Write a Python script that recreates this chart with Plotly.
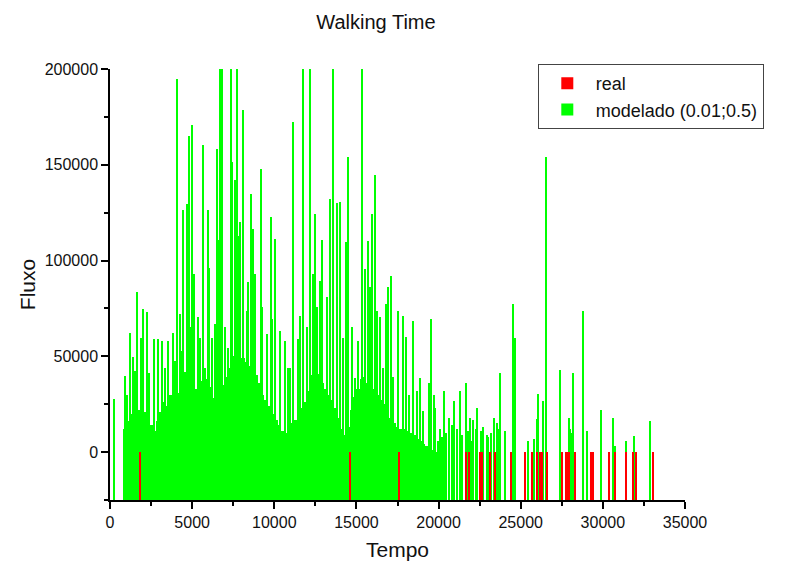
import numpy as np
import plotly.graph_objects as go

Y_MIN = -25000

# "real" series (values read as ~0, drawn from the bottom axis)
real_x = [1826, 14609, 17591, 21670, 21852, 22522, 22643, 23130, 23435, 24409,
          25261, 25687, 25991, 26174, 26296, 26600, 27513, 27757, 27878, 27939,
          28304, 29278, 29400, 30374, 30739, 31409, 31835, 32017, 33052]
real_y = [0] * len(real_x)

# "modelado" – dense body (read at 200-unit steps)
env_x = list(range(900, 20400, 200))
env_y = [12000, 16000, 20000, 24000, 22000, 25000, 21000, 18000, 14000, 11000,
         16000, 21000, 26000, 24000, 30000, 33000, 31000, 37000, 42000, 45000,
         40000, 36000, 33000, 37000, 40000, 38000, 34000, 28000, 26000, 31000,
         35000, 39000, 44000, 50000, 55000, 51000, 49000, 47000, 45000, 43000,
         40000, 36000, 30000, 27000, 24000, 20000, 17000, 14000, 11000, 10000,
         13000, 15000, 17000, 20000, 23000, 26000, 32000, 40000, 46000, 41000,
         36000, 33000, 30000, 27000, 23000, 18000, 12000, 9000, 13000, 22000,
         29000, 33000, 38000, 39000, 36000, 35000, 33000, 30000, 27000, 25000,
         21000, 18000, 15000, 13000, 12000, 12000, 11000, 10000, 9000, 7000,
         6000, 4000, 3000, 2000, 1000, 0, -4000, -10000]

# "modelado" – individual spikes
spike_x = [243, 913, 1050, 1217, 1420, 1522, 1663, 1866, 2029, 2231, 2394, 2678, 2941,
           3143, 3348, 3550, 3814, 3977, 4058, 4261, 4362, 4423, 4707, 4809, 4870,
           5012, 5073, 5100, 5377, 5478, 5641, 5783, 5986, 6047, 6188, 6391, 6534,
           6650, 6696, 6760, 6820, 7000, 7203, 7346, 7407, 7609, 7710, 7800, 7913,
           8116, 8319, 8420, 8562, 8724, 8825, 9170, 9232, 9536, 9778, 9841, 10044,
           10348, 10652, 10855, 10956, 11159, 11423, 11565, 11768, 11971, 12174,
           12377, 12478, 12580, 12783, 12884, 13188, 13391, 13554, 13600, 13838,
           14000, 14203, 14365, 14507, 14710, 14913, 15116, 15320, 15522, 15724,
           15826, 15927, 16131, 16273, 16435, 16600, 16781, 16943, 17085, 17250,
           17511, 17815, 17990, 18200, 18464, 18660, 18870, 19072, 19430, 19539,
           19742, 19800, 19986, 20087, 20200, 20331, 20450, 20650, 20800, 20960,
           21100, 21305, 21450, 21650, 21800, 21920, 22000, 22120, 22250, 22360,
           22580, 22700, 22920, 23000, 23200, 23375, 23530, 23650, 23740, 24025,
           24512, 24652, 25424, 25800, 25973, 26070, 26376, 26540, 27392, 27960,
           28000, 28050, 28203, 28773, 29057, 29906, 30599, 30740, 31409, 31896,
           32870]
spike_y = [27750, 39800, 30000, 62300, 49400, 42400, 83400, 59800, 74900, 72900, 41500, 59200, 59000,
           58000, 44100, 58000, 62300, 47600, 194600, 72100, 52900, 126200, 129700, 164900, 65100,
           170700, 58100, 93200, 70300, 59800, 160200, 44100, 126200, 96000, 59800, 66800, 158500,
           110500, 215000, 215000, 215000, 65100, 54600, 215000, 151500, 141900, 215000, 113000, 120000,
           178500, 73800, 88600, 134900, 116600, 93000, 148000, 75600, 61600, 122700, 69500, 111400,
           63400, 58100, 44100, 44100, 172400, 59200, 71200, 215000, 65400, 215000,
           93000, 124400, 75600, 89500, 110500, 80800, 132300, 215000, 96800, 130100,
           130800, 59800, 109600, 154100, 65100, 38900, 58100, 215000, 95500, 110000,
           86000, 124400, 144500, 73800, 70300, 44000, 77300, 86000, 92200, 39000,
           73800, 71200, 60000, 30000, 68600, 32000, 38900, 21500, 36000, 69500,
           30000, 23000, 5800, 12000, 8000, 31900, 10000, 18000, 14000, 26700,
           12000, 31900, 9000, 36300, 11000, 18000, 6000, 17000, 12000, 23200,
           11000, 13000, 9000, 8000, 10000, 18000, 15000, 12000, 41500, 11000,
           77300, 59800, 6000, 7000, 17100, 30200, 26700, 154100, 42800, 18000,
           12000, 10000, 41500, 73500, 11000, 21800, 18000, 3000, 6000, 8500,
           16200]

x_ticks = [0, 5000, 10000, 15000, 20000, 25000, 30000, 35000]
y_ticks = [0, 50000, 100000, 150000, 200000]

GREEN = "#00ff00"
RED = "#ff0000"
FONT = "Liberation Sans, Arial, sans-serif"

fig = go.Figure()
fig.add_trace(go.Bar(
    x=env_x, y=np.array(env_y) - Y_MIN, base=Y_MIN, width=200,
    marker=dict(color=GREEN, line=dict(width=0)),
    showlegend=False, legendgroup="m", hoverinfo="skip"))
fig.add_trace(go.Bar(
    x=spike_x, y=np.array(spike_y) - Y_MIN, base=Y_MIN, width=60,
    marker=dict(color=GREEN, line=dict(width=0)),
    name="modelado (0.01;0.5)", legendgroup="m", legendrank=2))
fig.add_trace(go.Bar(
    x=real_x, y=np.array(real_y) - Y_MIN, base=Y_MIN, width=65,
    marker=dict(color=RED, line=dict(width=0)),
    name="real", legendrank=1))

# page body has an 8px margin, so the figure is sized/offset to compensate
fig.update_layout(
    width=777, height=555,
    margin=dict(l=102, r=100, t=61, b=63, autoexpand=False),
    paper_bgcolor="white", plot_bgcolor="white",
    barmode="overlay", bargap=0,
    font=dict(family=FONT, size=16, color="#111"),
    title=dict(text="Walking Time", x=0.4736, xanchor="center", y=0.975, yanchor="middle",
               font=dict(family=FONT, size=20, color="#111")),
    legend=dict(x=0.744, xanchor="left", y=1.0116, yanchor="top",
                bgcolor="white", bordercolor="#444", borderwidth=1,
                font=dict(family=FONT, size=18, color="#111"),
                itemwidth=47, tracegroupgap=0),
    showlegend=True,
)
fig.update_xaxes(
    range=[0, 35000], tickvals=x_ticks, ticktext=[str(v) for v in x_ticks],
    ticks="outside", ticklen=7, tickwidth=1.5, tickcolor="black",
    minor=dict(dtick=2500, tick0=0, ticks="outside", ticklen=4, tickwidth=1.5, tickcolor="black"),
    showline=True, linecolor="black", linewidth=1.5, showgrid=False, zeroline=False,
    layer="below traces", automargin=False,
    title=dict(text="Tempo", font=dict(family=FONT, size=21, color="#111"), standoff=12),
    tickfont=dict(family=FONT, size=16, color="#111"),
)
fig.update_yaxes(
    range=[Y_MIN, 200000], tickvals=y_ticks, ticktext=[str(v) for v in y_ticks],
    ticks="outside", ticklen=7, tickwidth=1.5, tickcolor="black",
    minor=dict(dtick=25000, tick0=0, ticks="outside", ticklen=4, tickwidth=1.5, tickcolor="black"),
    showline=True, linecolor="black", linewidth=1.5, showgrid=False, zeroline=False,
    layer="below traces", automargin=False,
    title=dict(text="Fluxo", font=dict(family=FONT, size=21, color="#111"), standoff=3),
    tickfont=dict(family=FONT, size=16, color="#111"),
)

fig.write_html("out.html")
